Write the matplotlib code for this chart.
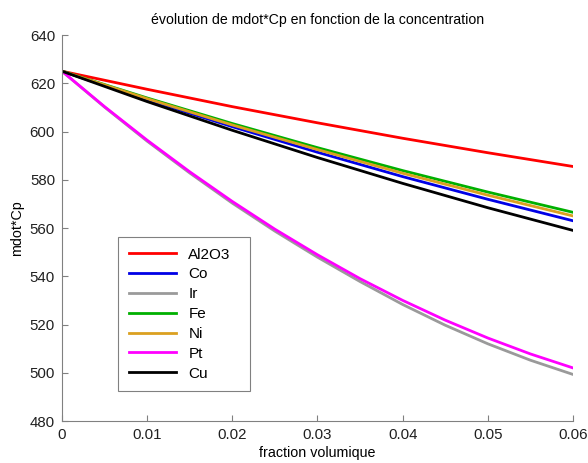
import matplotlib
matplotlib.use("Agg")
from matplotlib import pyplot as plt

plt.rcParams['font.family'] = ['Liberation Sans', 'DejaVu Sans']

# fraction volumique
phi_fin = [0.000, 0.005, 0.010, 0.015, 0.020, 0.025, 0.030,
           0.035, 0.040, 0.045, 0.050, 0.055, 0.060]
phi = [0.00, 0.01, 0.02, 0.03, 0.04, 0.05, 0.06]

# mdot*Cp
al2o3 = [625.0, 617.5, 610.3, 603.6, 597.2, 591.2, 585.5]
co = [625.0, 613.2, 602.0, 591.4, 581.3, 571.9, 563.0]
fe = [625.0, 613.9, 603.3, 593.3, 583.8, 574.9, 566.5]
ni = [625.0, 613.6, 602.7, 592.5, 582.7, 573.6, 565.0]
cu = [625.0, 612.4, 600.5, 589.2, 578.5, 568.4, 559.0]
ir = [625.0, 610.1, 596.0, 582.8, 570.3, 558.7, 547.9,
      537.8, 528.3, 519.7, 512.0, 505.2, 499.3]
pt = [625.0, 610.3, 596.4, 583.3, 571.0, 559.5, 548.9,
      539.0, 530.0, 521.8, 514.4, 507.8, 502.0]

series = [
    ("Al2O3", phi, al2o3, "#ff0000"),
    ("Co", phi, co, "#0000e6"),
    ("Ir", phi_fin, ir, "#9a9a9a"),
    ("Fe", phi, fe, "#00b000"),
    ("Ni", phi, ni, "#dba020"),
    ("Pt", phi_fin, pt, "#ff00ff"),
    ("Cu", phi, cu, "#000000"),
]

fig = plt.figure(figsize=(5.88, 4.63), dpi=100)
ax = fig.add_axes([0.1054, 0.0907, 0.8691, 0.8337])

for nom, x, y, c in series:
    ax.plot(x, y, color=c, lw=2.0, label=nom)

ax.set_xlim(0, 0.06)
ax.set_ylim(480, 640)
ax.set_xticks([0, 0.01, 0.02, 0.03, 0.04, 0.05, 0.06])
ax.set_xticklabels(["0", "0.01", "0.02", "0.03", "0.04", "0.05", "0.06"])
ax.set_yticks(range(480, 641, 20))

for s in ["top", "right"]:
    ax.spines[s].set_visible(False)
for s in ["left", "bottom"]:
    ax.spines[s].set_color("#808080")
ax.tick_params(direction="in", length=4, color="#808080", labelsize=10.8,
               labelcolor="#202020", pad=5)

ax.set_title("évolution de mdot*Cp en fonction de la concentration",
             fontsize=10.2, pad=8)
ax.set_xlabel("fraction volumique", fontsize=10.3, labelpad=3)
ax.set_ylabel("mdot*Cp", fontsize=10.3)

leg = ax.legend(loc="upper left", bbox_to_anchor=(0.1096, 0.4767, 0.2583, 0),
                mode="expand", fontsize=11, handlelength=3.1, borderaxespad=0,
                borderpad=0.7, fancybox=False, framealpha=1, labelspacing=0.38)
leg.get_frame().set_edgecolor("#808080")
leg.get_frame().set_linewidth(0.8)

fig.savefig("out.png", dpi=100)
